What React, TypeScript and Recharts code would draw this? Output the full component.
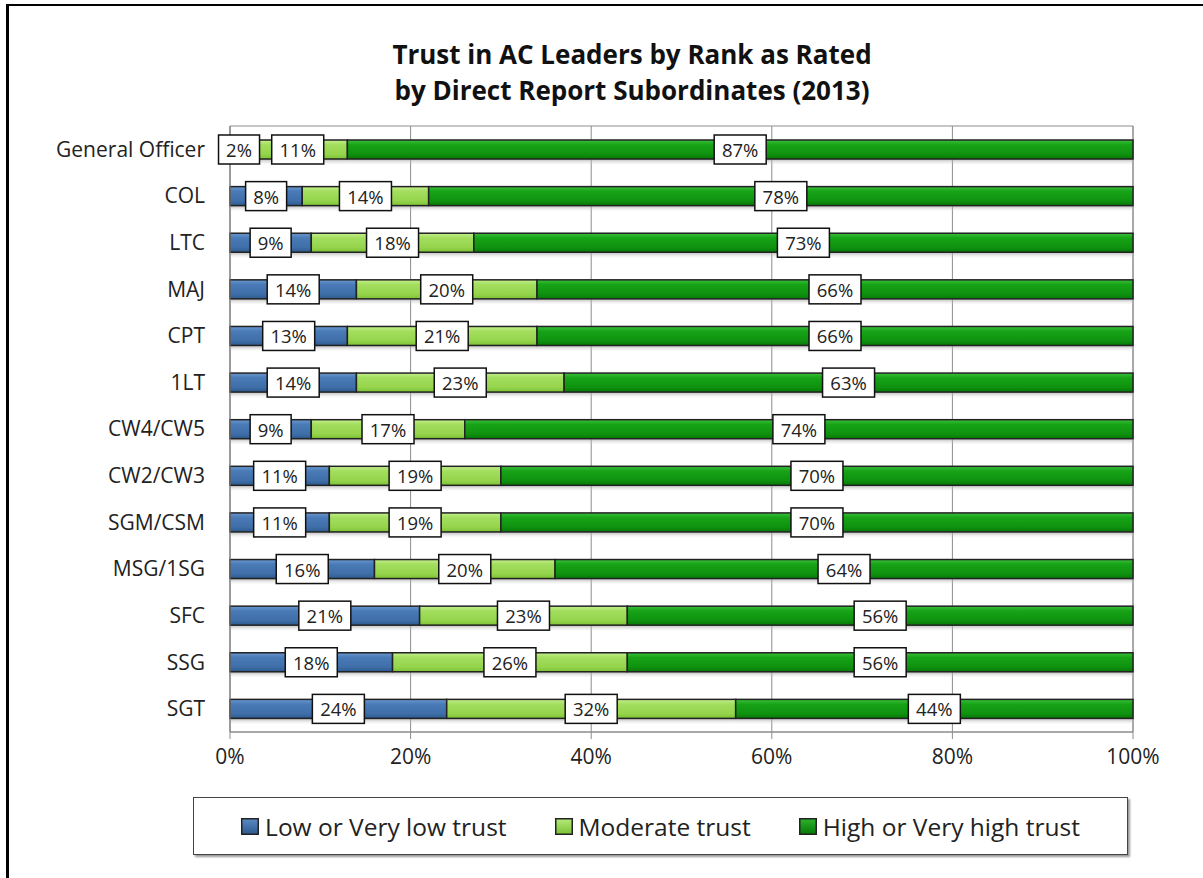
import {
  Bar,
  BarChart,
  CartesianGrid,
  LabelList,
  Legend,
  ReferenceArea,
  XAxis,
  YAxis,
} from "recharts";

const ranks = [
  "General Officer",
  "COL",
  "LTC",
  "MAJ",
  "CPT",
  "1LT",
  "CW4/CW5",
  "CW2/CW3",
  "SGM/CSM",
  "MSG/1SG",
  "SFC",
  "SSG",
  "SGT",
];
const lowTrust = [2, 8, 9, 14, 13, 14, 9, 11, 11, 16, 21, 18, 24];
const moderateTrust = [11, 14, 18, 20, 21, 23, 17, 19, 19, 20, 23, 26, 32];
const highTrust = [87, 78, 73, 66, 66, 63, 74, 70, 70, 64, 56, 56, 44];
const xTicks = [0, 20, 40, 60, 80, 100];

const seriesNames = ["Low or Very low trust", "Moderate trust", "High or Very high trust"];
const seriesGradients = ["gBlue", "gLight", "gDark"];

const data = ranks.map((rank, i) => ({
  rank,
  low: lowTrust[i],
  moderate: moderateTrust[i],
  high: highTrust[i],
}));

const FONT = "'Open Sans', 'Noto Sans', sans-serif";

function GlossyBar(props: any) {
  const { x, y, width, height, gradient } = props;
  if (!width || width <= 0) return null;
  return (
    <g>
      <rect x={x} y={y + height} width={width} height={6} fill="url(#gShadow)" />
      <rect
        x={x}
        y={y}
        width={width}
        height={height}
        fill={`url(#${gradient})`}
        stroke="#222"
        strokeWidth={1.5}
      />
    </g>
  );
}

function ValueBox({ cx, cy, value }: { cx: number; cy: number; value: number }) {
  const text = `${value}%`;
  const w = text.length === 2 ? 41 : 52;
  const h = 29;
  return (
    <g>
      <rect x={cx - w / 2} y={cy - h / 2} width={w} height={h} fill="#fff" stroke="#111" strokeWidth={1.5} />
      <text
        x={cx}
        y={cy}
        textAnchor="middle"
        dominantBaseline="central"
        fontFamily={FONT}
        fontSize={18.5}
        fill="#222"
      >
        {text}
      </text>
    </g>
  );
}

// all three boxes drawn from the last segment so they sit above every bar
function RowLabels(props: any) {
  const { x, y, width, height, index } = props;
  const row = data[index];
  if (!row || !width) return null;
  const ppu = width / row.high;
  const left = x - (row.low + row.moderate) * ppu;
  const cy = y + height / 2;
  return (
    <g>
      <ValueBox cx={left + (row.low / 2) * ppu} cy={cy} value={row.low} />
      <ValueBox cx={left + (row.low + row.moderate / 2) * ppu} cy={cy} value={row.moderate} />
      <ValueBox cx={x + width / 2} cy={cy} value={row.high} />
    </g>
  );
}

function LegendBox() {
  return (
    <div
      style={{
        boxSizing: "border-box",
        width: "100%",
        height: "100%",
        border: "1px solid #444",
        boxShadow: "2px 2px 2px #999",
        background: "#fff",
        display: "flex",
        alignItems: "center",
        justifyContent: "center",
        gap: 48,
        fontFamily: FONT,
        fontSize: 24.5,
        color: "#222",
      }}
    >
      {seriesNames.map((name, i) => (
        <div key={name} style={{ display: "flex", alignItems: "center", gap: 6 }}>
          <svg width={18} height={17}>
            <rect x={0.75} y={0.75} width={16.5} height={15.5} fill={`url(#${seriesGradients[i]}L)`} stroke="#222" strokeWidth={1.5} />
            <defs>
              <linearGradient id={`${seriesGradients[i]}L`} x1="0" y1="0" x2="0" y2="1">
                <stop offset="0%" stopColor={["#5b8bc6", "#b5ea7a", "#2cb42c"][i]} />
                <stop offset="100%" stopColor={["#2c5a8e", "#7cc234", "#067806"][i]} />
              </linearGradient>
            </defs>
          </svg>
          <span>{name}</span>
        </div>
      ))}
    </div>
  );
}

export default function App() {
  return (
    <div style={{ position: "absolute", left: 0, top: 0, width: 1203, height: 878, overflow: "hidden", background: "#fff" }}>
      <div
        style={{
          position: "absolute",
          left: 6,
          top: 4,
          width: 1400,
          height: 1000,
          borderLeft: "3px solid #000",
          borderTop: "2px solid #000",
        }}
      />
      <div
        style={{
          position: "absolute",
          left: 0,
          top: 36,
          width: 1264,
          textAlign: "center",
          fontFamily: FONT,
          fontWeight: 700,
          fontSize: 26,
          lineHeight: "36px",
          color: "#111",
        }}
      >
        Trust in AC Leaders by Rank as Rated
        <br />
        by Direct Report Subordinates (2013)
      </div>
      <BarChart
        width={1203}
        height={878}
        layout="vertical"
        data={data}
        barSize={19}
        margin={{ top: 126, right: 70, bottom: 116, left: 0 }}
        style={{ position: "absolute", left: 0, top: 0 }}
      >
        <defs>
          <linearGradient id="gBlue" x1="0" y1="0" x2="0" y2="1">
            <stop offset="0%" stopColor="#6a98d0" />
            <stop offset="25%" stopColor="#4a7bb7" />
            <stop offset="75%" stopColor="#3f6ea8" />
            <stop offset="100%" stopColor="#2c5a8e" />
          </linearGradient>
          <linearGradient id="gLight" x1="0" y1="0" x2="0" y2="1">
            <stop offset="0%" stopColor="#c4f08e" />
            <stop offset="25%" stopColor="#a3de5e" />
            <stop offset="75%" stopColor="#95d44c" />
            <stop offset="100%" stopColor="#7cc234" />
          </linearGradient>
          <linearGradient id="gDark" x1="0" y1="0" x2="0" y2="1">
            <stop offset="0%" stopColor="#3cc03c" />
            <stop offset="25%" stopColor="#17a317" />
            <stop offset="75%" stopColor="#0f920f" />
            <stop offset="100%" stopColor="#067806" />
          </linearGradient>
          <linearGradient id="gShadow" x1="0" y1="0" x2="0" y2="1">
            <stop offset="0%" stopColor="#999" stopOpacity={0.7} />
            <stop offset="100%" stopColor="#ddd" stopOpacity={0} />
          </linearGradient>
        </defs>
        <CartesianGrid horizontal={false} stroke="#8c8c8c" strokeWidth={1} />
        <ReferenceArea x1={0} x2={100} fill="none" stroke="#8c8c8c" strokeWidth={1} />
        <XAxis
          type="number"
          domain={[0, 100]}
          ticks={xTicks}
          tickFormatter={(v: number) => `${v}%`}
          height={30}
          axisLine={{ stroke: "#8c8c8c" }}
          tickLine={{ stroke: "#8c8c8c" }}
          tickSize={7}
          tickMargin={10}
          tick={{ fill: "#222", fontSize: 21, fontFamily: FONT }}
        />
        <YAxis
          type="category"
          dataKey="rank"
          width={230}
          axisLine={{ stroke: "#8c8c8c" }}
          tickLine={false}
          tickSize={0}
          tickMargin={25}
          tick={{ fill: "#222", fontSize: 21, fontFamily: FONT }}
        />
        <Legend
          layout="horizontal"
          verticalAlign="middle"
          align="center"
          wrapperStyle={{ left: 193, top: 797, width: 935, height: 58 }}
          content={() => <LegendBox />}
        />
        <Bar
          dataKey="low"
          stackId="trust"
          name={seriesNames[0]}
          isAnimationActive={false}
          shape={(p: any) => <GlossyBar {...p} gradient="gBlue" />}
        />
        <Bar
          dataKey="moderate"
          stackId="trust"
          name={seriesNames[1]}
          isAnimationActive={false}
          shape={(p: any) => <GlossyBar {...p} gradient="gLight" />}
        />
        <Bar
          dataKey="high"
          stackId="trust"
          name={seriesNames[2]}
          isAnimationActive={false}
          shape={(p: any) => <GlossyBar {...p} gradient="gDark" />}
        >
          <LabelList dataKey="high" content={(p: any) => <RowLabels {...p} />} />
        </Bar>
      </BarChart>
    </div>
  );
}
